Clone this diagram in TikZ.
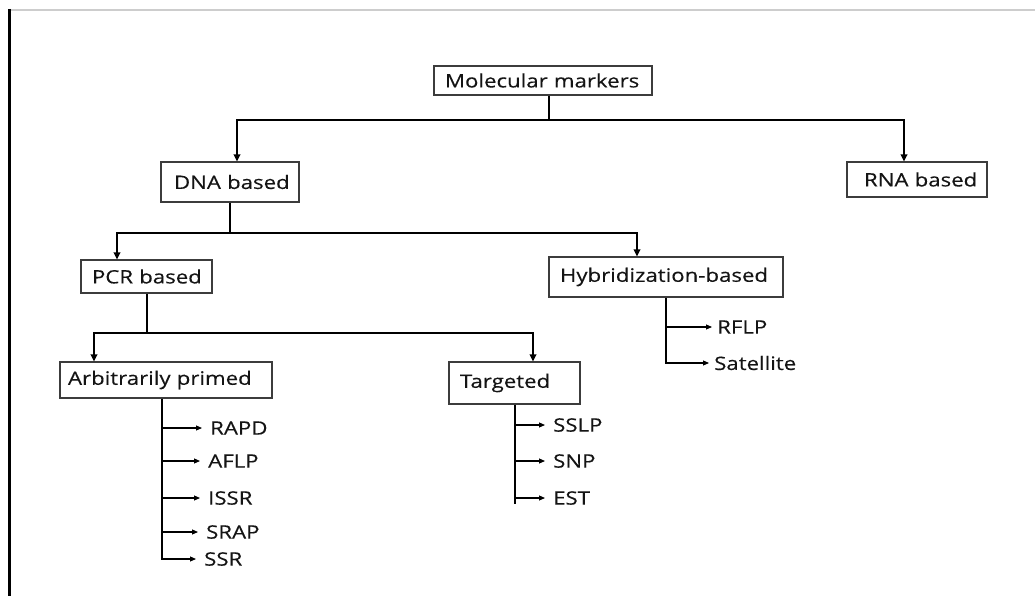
\documentclass[tikz,border=0pt]{standalone}
\usepackage{fontspec}
\setmainfont{Open Sans}[FakeStretch=1.2,FakeBold=0.3]
\usetikzlibrary{arrows.meta}
\definecolor{boxline}{RGB}{60,60,60}
\definecolor{txt}{RGB}{20,20,20}
\definecolor{frameline}{RGB}{205,205,205}
\begin{document}
\begin{tikzpicture}[x=1pt,y=-1pt,
  every node/.style={text=txt, font=\fontsize{18.5}{21}\selectfont},
  box/.style={draw=boxline, line width=1.1pt, rectangle, inner ysep=0pt, align=left},
  lbl/.style={inner sep=0pt, anchor=west},
  conn/.style={line width=2pt, black},
  mainarrow/.style={conn, -{Triangle[length=7pt,width=6.5pt]}},
  brarrow/.style={line width=1.1pt, black, -{Triangle[length=6pt,width=5pt]}}
]
\useasboundingbox (0,0) rectangle (1035,596);
\fill[white] (0,0) rectangle (1035,596);
% frame lines
\draw[frameline, line width=1.5pt] (9,10) -- (1035,10);
\draw[black, line width=2.3pt] (9.5,9) -- (9.5,596);

% boxes
\node[box, minimum height=29pt, text width=196pt, inner xsep=11pt] (mm) at (543,80.5) {\mbox{Molecular markers}};
\node[box, minimum height=40pt, text width=112pt, inner xsep=13pt] (dna) at (230,182) {\mbox{DNA based}};
\node[box, minimum height=35pt, text width=106pt, inner xsep=17pt] (rna) at (917,179.5) {\mbox{RNA based}};
\node[box, minimum height=33pt, text width=109pt, inner xsep=11pt] (pcr) at (146.5,276.5) {\mbox{PCR based}};
\node[box, minimum height=40pt, text width=212pt, inner xsep=11pt] (hyb) at (666,277) {\mbox{Hybridization-based}};
\node[box, minimum height=36pt, text width=196pt, inner xsep=8pt] (arb) at (166,380) {\mbox{Arbitrarily primed}};
\node[box, minimum height=42pt, text width=109pt, inner xsep=11pt] (tgt) at (514.5,383) {\mbox{Targeted}};

% tree connectors
\coordinate (j1) at (549,120);
\draw[conn] ([xshift=6pt]mm.south) -- (j1);
\draw[mainarrow] (j1) -| ([xshift=7pt]dna.north);
\draw[mainarrow] (j1) -| ([xshift=-13pt]rna.north);
\coordinate (j2) at (230,233);
\draw[conn] (dna.south) -- (j2);
\draw[mainarrow] (j2) -| ([xshift=-29.5pt]pcr.north);
\draw[mainarrow] (j2) -| ([xshift=-29pt]hyb.north);
\coordinate (j3) at (146.5,333);
\draw[conn] (pcr.south) -- (j3);
\draw[mainarrow] (j3) -| ([xshift=-72pt]arb.north);
\draw[mainarrow] (j3) -| ([xshift=18.5pt]tgt.north);

% leaf labels
\node[lbl] (rapd) at (210,428) {RAPD};
\node[lbl] (aflp) at (208,461) {AFLP};
\node[lbl] (issr) at (208,498) {ISSR};
\node[lbl] (srap) at (206,532) {SRAP};
\node[lbl] (ssr)  at (204,559) {SSR};
\node[lbl] (sslp) at (553,425) {SSLP};
\node[lbl] (snp)  at (553,461) {SNP};
\node[lbl] (est)  at (553,498) {EST};
\node[lbl] (rflp) at (717,327) {RFLP};
\node[lbl] (sat)  at (714,363) {Satellite};

% arbitrarily primed branch
\coordinate (aend) at (162,560);
\draw[conn] ([xshift=-4pt]arb.south) -- (aend);
\foreach \n in {rapd,aflp,issr,srap,ssr}
  \draw[brarrow] (\n.west -| aend) -- ([xshift=-8pt]\n.west);

% targeted branch
\coordinate (tend) at (514.5,504);
\draw[conn] (tgt.south) -- (tend);
\foreach \n in {sslp,snp,est}
  \draw[brarrow] (\n.west -| tend) -- ([xshift=-8pt]\n.west);

% hybridization branch
\coordinate (hend) at (666,364);
\draw[conn] (hyb.south) -- (hend);
\foreach \n in {rflp,sat}
  \draw[brarrow] (\n.west -| hend) -- ([xshift=-5pt]\n.west);
\end{tikzpicture}
\end{document}
